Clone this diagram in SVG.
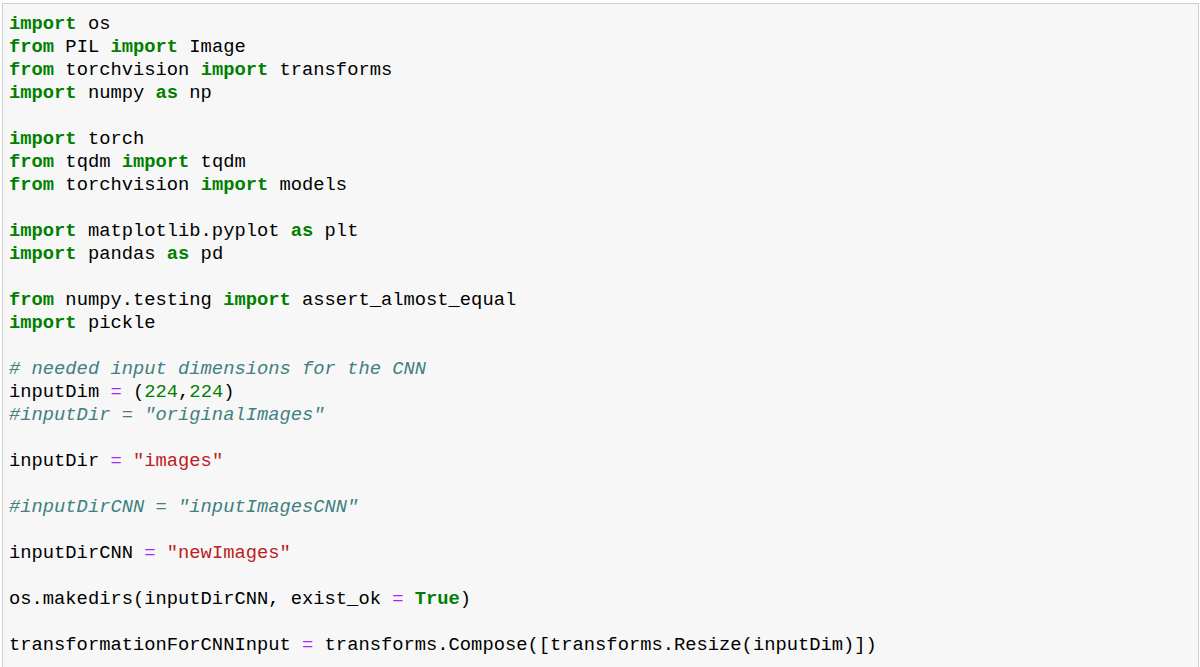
<svg xmlns="http://www.w3.org/2000/svg" width="1200" height="667" viewBox="0 0 1200 667">
<style>
text{font-family:"Liberation Mono","DejaVu Sans Mono",monospace;font-size:18.8px;fill:#000;white-space:pre}
.k{fill:#008000;font-weight:bold}.o{fill:#aa22ff}.n{fill:#008000}.s{fill:#ba2121}.c{fill:#408080;font-style:italic}
</style>
<rect width="1200" height="667" fill="#fff"/>
<rect x="2.5" y="3.5" width="1196" height="680" fill="#f7f7f7" stroke="#cfcfcf"/>
<g xml:space="preserve">
<text x="9" y="29"><tspan class="k">import</tspan> os</text>
<text x="9" y="52"><tspan class="k">from</tspan> PIL <tspan class="k">import</tspan> Image</text>
<text x="9" y="75"><tspan class="k">from</tspan> torchvision <tspan class="k">import</tspan> transforms</text>
<text x="9" y="98"><tspan class="k">import</tspan> numpy <tspan class="k">as</tspan> np</text>
<text x="9" y="144"><tspan class="k">import</tspan> torch</text>
<text x="9" y="167"><tspan class="k">from</tspan> tqdm <tspan class="k">import</tspan> tqdm</text>
<text x="9" y="190"><tspan class="k">from</tspan> torchvision <tspan class="k">import</tspan> models</text>
<text x="9" y="236"><tspan class="k">import</tspan> matplotlib.pyplot <tspan class="k">as</tspan> plt</text>
<text x="9" y="259"><tspan class="k">import</tspan> pandas <tspan class="k">as</tspan> pd</text>
<text x="9" y="305"><tspan class="k">from</tspan> numpy.testing <tspan class="k">import</tspan> assert_almost_equal</text>
<text x="9" y="328"><tspan class="k">import</tspan> pickle</text>
<text x="9" y="374" class="c"># needed input dimensions for the CNN</text>
<text x="9" y="397">inputDim <tspan class="o">=</tspan> (<tspan class="n">224</tspan>,<tspan class="n">224</tspan>)</text>
<text x="9" y="420" class="c">#inputDir = "originalImages"</text>
<text x="9" y="466">inputDir <tspan class="o">=</tspan> <tspan class="s">"images"</tspan></text>
<text x="9" y="512" class="c">#inputDirCNN = "inputImagesCNN"</text>
<text x="9" y="558">inputDirCNN <tspan class="o">=</tspan> <tspan class="s">"newImages"</tspan></text>
<text x="9" y="604">os.makedirs(inputDirCNN, exist_ok <tspan class="o">=</tspan> <tspan class="k">True</tspan>)</text>
<text x="9" y="650">transformationForCNNInput <tspan class="o">=</tspan> transforms.Compose([transforms.Resize(inputDim)])</text>
</g>
</svg>
